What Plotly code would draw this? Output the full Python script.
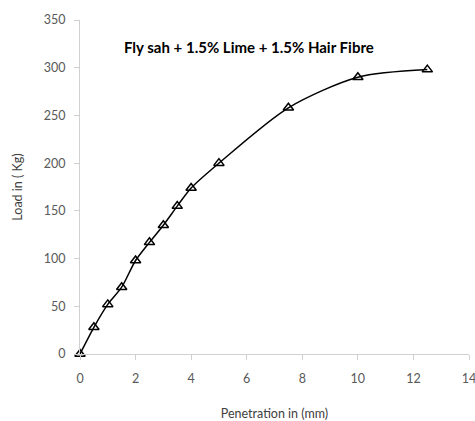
import plotly.graph_objects as go

penetration = [0, 0.5, 1, 1.5, 2, 2.5, 3, 3.5, 4, 5, 7.5, 10, 12.5]
load = [0, 28, 52, 70, 98, 117, 135, 155, 174, 200, 258, 290, 298]

x_ticks = [0, 2, 4, 6, 8, 10, 12, 14]
y_ticks = [0, 50, 100, 150, 200, 250, 300, 350]

fig = go.Figure()
fig.add_trace(go.Scatter(
    x=penetration, y=load, mode="lines+markers",
    line=dict(color="black", width=1.5, shape="spline", smoothing=0.8),
    marker=dict(symbol="triangle-up-open", size=9, color="black", line=dict(width=1.5, color="black")),
    showlegend=False, cliponaxis=False,
))

font_family = "Lato, 'Open Sans', sans-serif"
fig.update_layout(
    width=475, height=421,
    margin=dict(l=80, r=6, t=20, b=67),
    paper_bgcolor="white", plot_bgcolor="white",
    font=dict(family=font_family, size=12, color="#595959"),
    xaxis=dict(
        range=[0, 14], tickvals=x_ticks, showgrid=False, zeroline=False,
        showline=True, linecolor="#d0d0d0", linewidth=1, automargin=False,
        ticks="outside", ticklen=5, tickcolor="#d0d0d0", ticklabelstandoff=8,
        ticklabeloverflow="allow",
        title=dict(text="Penetration in (mm)", font=dict(size=12.5, color="#404040"), standoff=24),
        tickfont=dict(size=12.5, color="#595959"),
    ),
    yaxis=dict(
        range=[0, 350], tickvals=y_ticks, showgrid=False, zeroline=False,
        showline=True, linecolor="#d0d0d0", linewidth=1, automargin=False,
        ticks="outside", ticklen=5, tickcolor="#d0d0d0", ticklabelstandoff=6,
        title=dict(text="Load in ( Kg)", font=dict(size=12.5, color="#404040"), standoff=18),
        tickfont=dict(size=12.5, color="#595959"),
    ),
    annotations=[dict(
        x=0.434, y=0.92, xref="paper", yref="paper", xanchor="center", yanchor="middle",
        text="<b>Fly sah + 1.5% Lime + 1.5% Hair Fibre</b>", showarrow=False,
        font=dict(size=15, color="black", family=font_family),
    )],
)

fig.write_html("out.html", config={"displayModeBar": False},
               post_script="document.body.style.margin='0';document.body.style.overflow='hidden';")
